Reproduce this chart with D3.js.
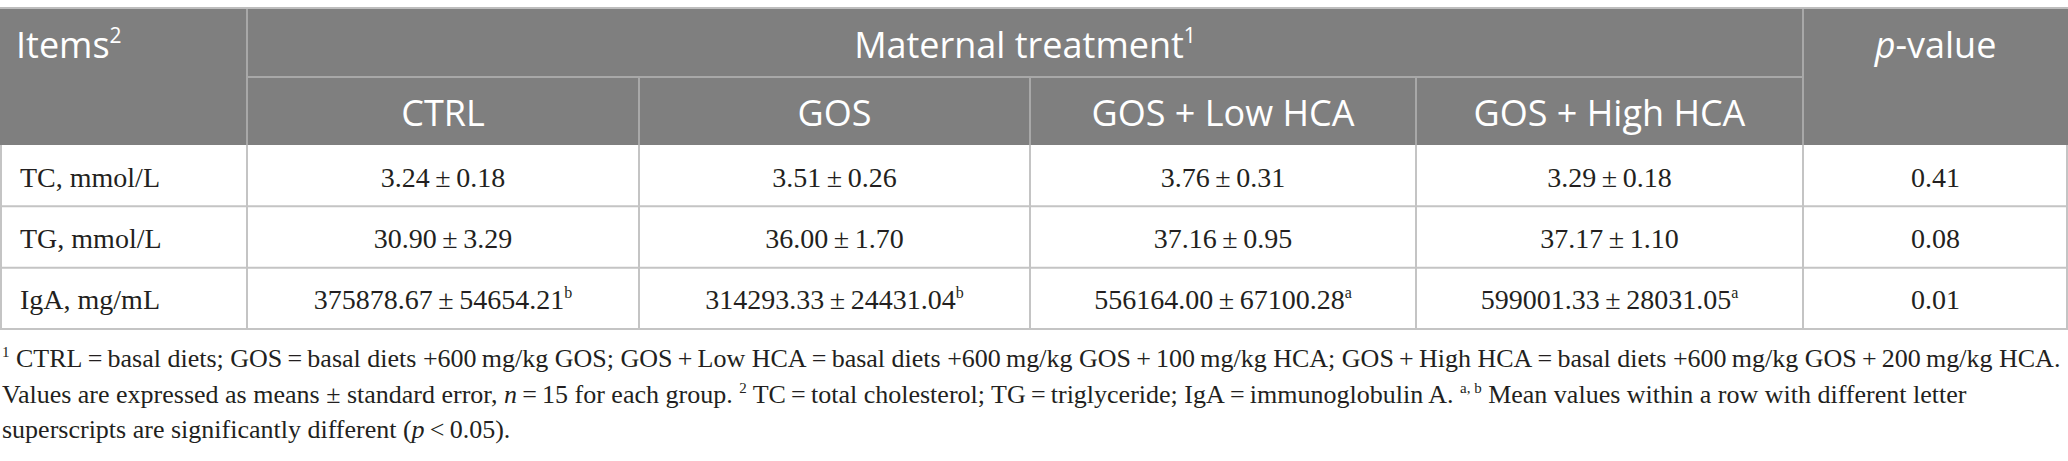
<!DOCTYPE html>
<html>
<head>
<meta charset="utf-8">
<script src="https://cdn.jsdelivr.net/npm/d3@7"></script>
<style>
  body { margin: 0; background: #fff; }
  svg { display: block; }
</style>
</head>
<body>
<svg id="table"></svg>
<script>
// table content
const groups = ["CTRL", "GOS", "GOS + Low HCA", "GOS + High HCA"];
const items = ["TC, mmol/L", "TG, mmol/L", "IgA, mg/mL"];
const means = [
  [3.24, 3.51, 3.76, 3.29],
  [30.90, 36.00, 37.16, 37.17],
  [375878.67, 314293.33, 556164.00, 599001.33]
];
const errors = [
  [0.18, 0.26, 0.31, 0.18],
  [3.29, 1.70, 0.95, 1.10],
  [54654.21, 24431.04, 67100.28, 28031.05]
];
const letters = [
  ["", "", "", ""],
  ["", "", "", ""],
  ["b", "b", "a", "a"]
];
const pValues = ["0.41", "0.08", "0.01"];

// footnote lines, as [text, style] pieces (style: "sup" or "i")
const notes = [
  [["1", "sup"], [" CTRL\u2009=\u2009basal diets; GOS\u2009=\u2009basal diets +600\u2009mg/kg GOS; GOS\u2009+\u2009Low HCA\u2009=\u2009basal diets +600\u2009mg/kg GOS\u2009+\u2009100\u2009mg/kg HCA; GOS\u2009+\u2009High HCA\u2009=\u2009basal diets +600\u2009mg/kg GOS\u2009+\u2009200\u2009mg/kg HCA."]],
  [["Values are expressed as means ± standard error, "], ["n", "i"], ["\u2009=\u200915 for each group. "], ["2", "sup"], [" TC\u2009=\u2009total cholesterol; TG\u2009=\u2009triglyceride; IgA\u2009=\u2009immunoglobulin A. "], ["a, b", "sup"], [" Mean values within a row with different letter"]],
  [["superscripts are significantly different ("], ["p", "i"], ["\u2009<\u20090.05)."]]
];

const width = 2068, height = 461;
const sans = "'Open Sans', 'Noto Sans', sans-serif";
const serif = "'Liberation Serif', 'DejaVu Serif', serif";
const headFill = "#7f7f7f", headLine = "#a8a8a8", gridLine = "#c4c4c4", ink = "#231f20";

const svg = d3.select("#table")
    .attr("width", width)
    .attr("height", height);

// column edges: items | 4 groups | p-value
const edges = [0, 247, 639, 1030, 1416, 1803, width];
const colX = d3.scaleOrdinal()
    .domain(d3.range(6))
    .range(d3.range(6).map(i => (edges[i] + edges[i + 1]) / 2));

const headTop = 8, headMid = 77, headBottom = 145, tableBottom = 329;
const rowY = d3.scaleBand()
    .domain(items)
    .range([headBottom, tableBottom]);

// header background
svg.append("rect")
    .attr("x", 0).attr("y", headTop)
    .attr("width", width).attr("height", headBottom - headTop)
    .attr("fill", headFill);

// header inner lines
const hl = svg.append("g").attr("stroke", headLine).attr("stroke-width", 2);
hl.append("line")
    .attr("x1", edges[1]).attr("x2", edges[5])
    .attr("y1", headMid).attr("y2", headMid);
hl.selectAll(".hv")
  .data([1, 5])
  .enter().append("line")
    .attr("x1", d => edges[d]).attr("x2", d => edges[d])
    .attr("y1", headTop).attr("y2", headBottom);
hl.selectAll(".hv2")
  .data([2, 3, 4])
  .enter().append("line")
    .attr("x1", d => edges[d]).attr("x2", d => edges[d])
    .attr("y1", headMid).attr("y2", headBottom);

// top border
svg.append("line")
    .attr("x1", 0).attr("x2", width)
    .attr("y1", headTop).attr("y2", headTop)
    .attr("stroke", "#bdbdbd").attr("stroke-width", 2);

// body grid
const gl = svg.append("g").attr("stroke", gridLine).attr("stroke-width", 2);
gl.selectAll(".rowline")
  .data(items)
  .enter().append("line")
    .attr("x1", 0).attr("x2", width)
    .attr("y1", d => rowY(d) + rowY.bandwidth())
    .attr("y2", d => rowY(d) + rowY.bandwidth());
gl.selectAll(".colline")
  .data(d3.range(7))
  .enter().append("line")
    .attr("x1", d => Math.min(Math.max(edges[d], 1), width - 1))
    .attr("x2", d => Math.min(Math.max(edges[d], 1), width - 1))
    .attr("y1", headBottom).attr("y2", tableBottom);

// header text
const head = svg.append("g")
    .attr("fill", "#fff")
    .attr("font-family", sans)
    .attr("font-size", 36);

const itemsHead = head.append("text")
    .attr("x", 16).attr("y", 58)
    .text("Items");
itemsHead.append("tspan")
    .attr("font-size", 21).attr("dy", -15)
    .text("2");

const mt = head.append("text")
    .attr("x", (edges[1] + edges[5]) / 2).attr("y", 58)
    .attr("text-anchor", "middle")
    .text("Maternal treatment");
mt.append("tspan")
    .attr("font-size", 21).attr("dy", -15)
    .text("1");

const pv = head.append("text")
    .attr("x", colX(5)).attr("y", 58)
    .attr("text-anchor", "middle");
pv.append("tspan").attr("font-style", "italic").text("p");
pv.append("tspan").text("-value");

head.selectAll(".group")
  .data(groups)
  .enter().append("text")
    .attr("x", (d, i) => colX(i + 1))
    .attr("y", 126)
    .attr("text-anchor", "middle")
    .text(d => d);

// body text
const body = svg.append("g")
    .attr("fill", ink)
    .attr("font-family", serif)
    .attr("font-size", 28);

const baseY = d => rowY(d) + rowY.bandwidth() / 2 + 11;

body.selectAll(".item")
  .data(items)
  .enter().append("text")
    .attr("x", 20)
    .attr("y", baseY)
    .text(d => d);

items.forEach((item, r) => {
  const cells = body.selectAll(".cell-" + r)
    .data(groups)
    .enter().append("text")
      .attr("x", (d, i) => colX(i + 1))
      .attr("y", baseY(item))
      .attr("text-anchor", "middle");
  cells.append("tspan")
      .text((d, i) => means[r][i].toFixed(2) + "\u2009±\u2009" + errors[r][i].toFixed(2));
  cells.append("tspan")
      .attr("font-size", 16).attr("dy", -11)
      .text((d, i) => letters[r][i]);
});

body.selectAll(".pval")
  .data(pValues)
  .enter().append("text")
    .attr("x", colX(5))
    .attr("y", (d, i) => baseY(items[i]))
    .attr("text-anchor", "middle")
    .text(d => d);

// footnotes
const noteY = [367, 403, 438];
notes.forEach((line, k) => {
  const t = svg.append("text")
      .attr("x", 2).attr("y", noteY[k])
      .attr("fill", ink)
      .attr("font-family", serif)
      .attr("font-size", 26);
  let raised = false;
  line.forEach(([txt, style]) => {
    const s = t.append("tspan").text(txt);
    if (style === "sup") {
      s.attr("font-size", 15);
      if (!raised) s.attr("dy", -10);
      raised = true;
    } else {
      if (raised) s.attr("dy", 10);
      raised = false;
      if (style === "i") s.attr("font-style", "italic");
    }
  });
});
</script>
</body>
</html>
